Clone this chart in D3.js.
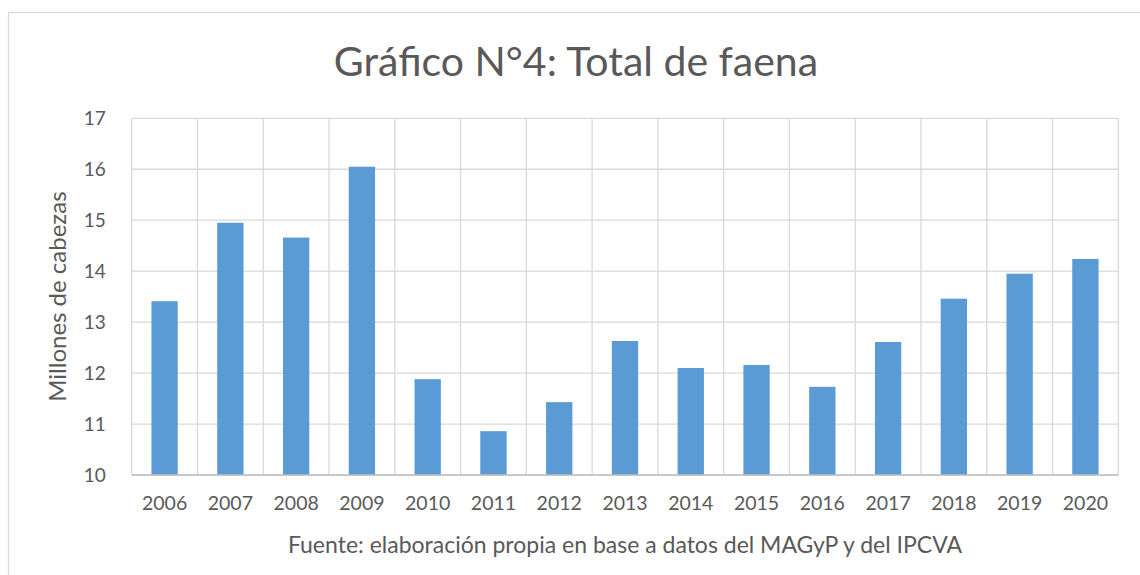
<!DOCTYPE html>
<html>
<head>
<meta charset="utf-8">
<script src="https://cdn.jsdelivr.net/npm/d3@7"></script>
<style>
html,body{margin:0;padding:0;background:#fff;}
text{font-family:Lato,"Open Sans",sans-serif;fill:#595959;}
</style>
</head>
<body>
<svg id="chart" width="1140" height="575"></svg>
<script>
const years = ["2006","2007","2008","2009","2010","2011","2012","2013","2014","2015","2016","2017","2018","2019","2020"];
const faena = [13.41,14.95,14.66,16.05,11.88,10.86,11.43,12.63,12.10,12.16,11.73,12.61,13.46,13.95,14.24];
const yTicks = [10,11,12,13,14,15,16,17];
const titleText = "Gráfico N°4: Total de faena";
const yTitle = "Millones de cabezas";
const xTitle = "Fuente: elaboración propia en base a datos del MAGyP y del IPCVA";

const svg = d3.select("#chart");
const m = {left:131.7, right:1118.3, top:118.3, bottom:475};

svg.append("rect").attr("x",8.5).attr("y",12.5).attr("width",1140).attr("height",600)
  .attr("fill","#fff").attr("stroke","#d9d9d9").attr("stroke-width",1.3);

const x = d3.scaleBand().domain(years).range([m.left,m.right]).paddingInner(0.6).paddingOuter(0.3);
const xg = d3.scaleBand().domain(years).range([m.left,m.right]);
const y = d3.scaleLinear().domain([10,17]).range([m.bottom,m.top]);

// horizontal gridlines
svg.append("g").selectAll("line").data(yTicks).join("line")
  .attr("x1",m.left).attr("x2",m.right)
  .attr("y1",d=>y(d)).attr("y2",d=>y(d))
  .attr("stroke","#d9d9d9").attr("stroke-width",1.3);
// vertical gridlines
const vlines = years.map(d=>xg(d)).concat([m.right]);
svg.append("g").selectAll("line").data(vlines).join("line")
  .attr("x1",d=>d).attr("x2",d=>d)
  .attr("y1",m.top).attr("y2",m.bottom)
  .attr("stroke","#d9d9d9").attr("stroke-width",1.3);

// bars
svg.append("g").selectAll("rect").data(years).join("rect")
  .attr("x",d=>x(d)).attr("width",x.bandwidth())
  .attr("y",(d,i)=>y(faena[i])).attr("height",(d,i)=>y(10)-y(faena[i]))
  .attr("fill","#5b9bd5");

// x axis line
svg.append("line").attr("x1",m.left).attr("x2",m.right).attr("y1",m.bottom).attr("y2",m.bottom)
  .attr("stroke","#bfbfbf").attr("stroke-width",1.3);

// y tick labels
const yAxis = d3.axisLeft(y).tickValues(yTicks).tickFormat(d3.format("d")).tickSize(0).tickPadding(0);
const ya = svg.append("g").attr("transform",`translate(${m.left-26},0)`).call(yAxis);
ya.select(".domain").remove();
ya.selectAll("text").attr("font-size",19).attr("fill","#595959").style("font-family","Lato, sans-serif");

// x tick labels
const xAxis = d3.axisBottom(xg).tickSize(0).tickPadding(0);
const xa = svg.append("g").attr("transform",`translate(0,${m.bottom+21})`).call(xAxis);
xa.select(".domain").remove();
xa.selectAll("text").attr("font-size",19.5).attr("fill","#595959").style("font-family","Lato, sans-serif");

// titles
svg.append("text").attr("x",576).attr("y",76).attr("text-anchor","middle")
  .attr("font-size",41).text(titleText);
svg.append("text").attr("transform",`translate(66,${(m.top+m.bottom)/2}) rotate(-90)`)
  .attr("text-anchor","middle").attr("font-size",24).text(yTitle);
svg.append("text").attr("x",625).attr("y",553).attr("text-anchor","middle")
  .attr("font-size",23).text(xTitle);
</script>
</body>
</html>
